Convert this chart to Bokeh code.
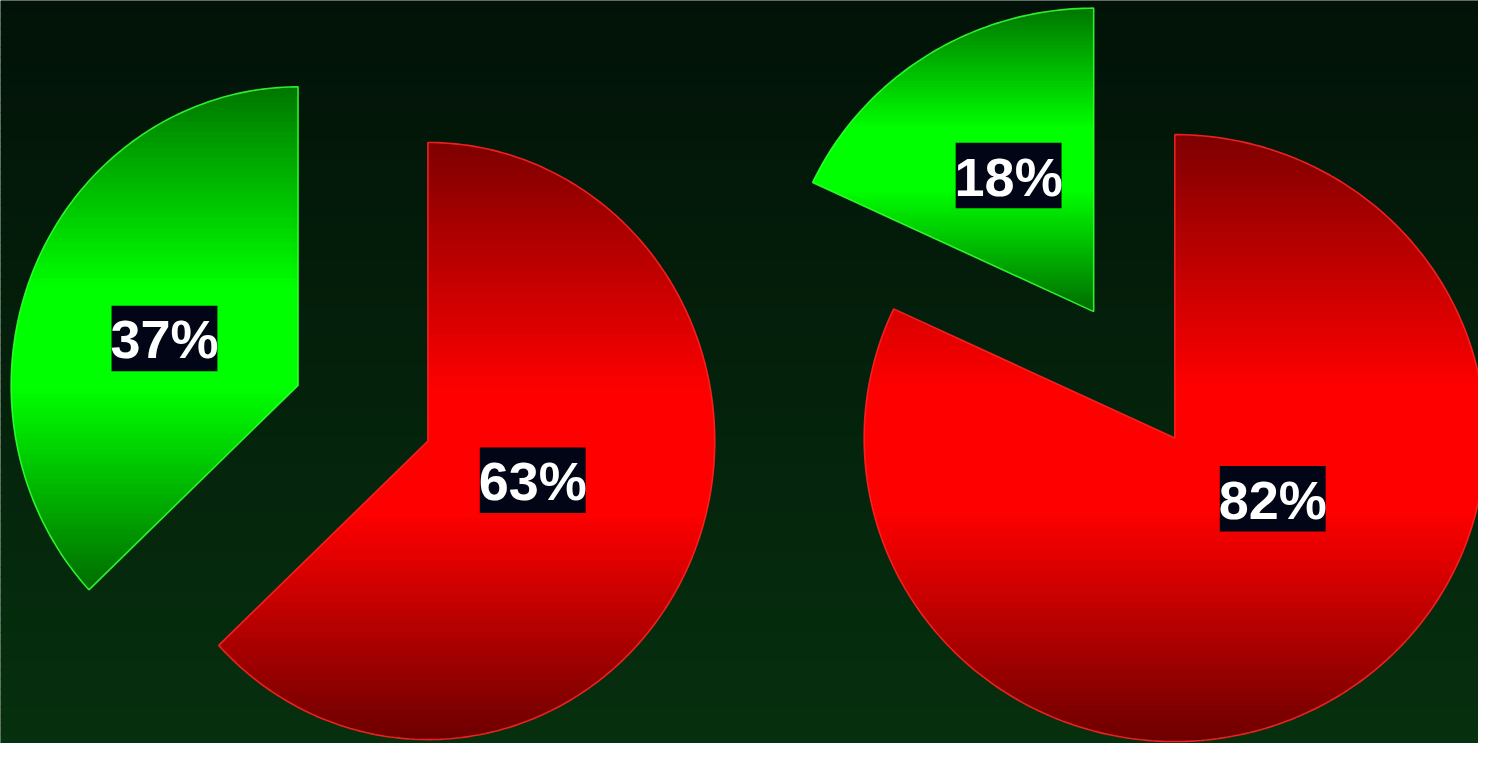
import numpy as np
from bokeh.plotting import figure
from bokeh.models import Range1d
from bokeh.embed import file_html
from bokeh.resources import INLINE
from bokeh.core.properties import value

# ---------------- data ----------------
categories = ["Red", "Green"]
left_values = [63, 37]
right_values = [82, 18]
left_labels = ["63%", "37%"]
right_labels = ["82%", "18%"]

pies_values = [left_values, right_values]
pies_labels = [left_labels, right_labels]

# ---------------- layout (reference pixel space) ----------------
W, H = 1494, 759
centers = [(432, 450), (1187, 447)]
radii = [(290, 305), (314, 310)]
explode = [(0, 143), (0, 153)]
label_offsets = [[(106, 40), (-135, -48)], [(99, 62), (-86, -139)]]

red_stops = [(0.0, (125, 0, 0)), (0.42, (255, 0, 0)), (0.62, (255, 0, 0)), (1.0, (108, 0, 0))]
green_stops = [(0.0, (0, 118, 0)), (0.40, (0, 255, 0)), (0.60, (0, 255, 0)), (1.0, (0, 108, 0))]
slice_stops = [red_stops, green_stops]
outline_colors = ["#ff2222", "#33ff33"]
bg_top = (2, 18, 8)
bg_bottom = (6, 48, 14)


def interp_color(stops, t):
    t = min(max(t, 0.0), 1.0)
    for (t0, c0), (t1, c1) in zip(stops[:-1], stops[1:]):
        if t0 <= t <= t1:
            f = 0 if t1 == t0 else (t - t0) / (t1 - t0)
            c = [round(a + (b - a) * f) for a, b in zip(c0, c1)]
            return "#%02x%02x%02x" % tuple(c)
    c = stops[-1][1]
    return "#%02x%02x%02x" % tuple(c)


def sector(cx, cy, rx, ry, a0, a1):
    n = max(int(abs(a1 - a0)), 2) + 1
    th = np.radians(np.linspace(a0, a1, n))
    xs = [cx] + list(cx + rx * np.sin(th))
    ys = [cy] + list(cy - ry * np.cos(th))
    return list(zip(xs, ys))


def _inter(p, c, yc):
    t = (yc - p[1]) / (c[1] - p[1])
    return (p[0] + t * (c[0] - p[0]), yc)


def clip_half(pts, yc, keep_ge):
    out = []
    n = len(pts)
    for i in range(n):
        cur = pts[i]
        prev = pts[i - 1]
        cin = cur[1] >= yc if keep_ge else cur[1] <= yc
        pin = prev[1] >= yc if keep_ge else prev[1] <= yc
        if cin:
            if not pin:
                out.append(_inter(prev, cur, yc))
            out.append(cur)
        elif pin:
            out.append(_inter(prev, cur, yc))
    return out


p = figure(width=1478, height=743, x_range=Range1d(0, W), y_range=Range1d(H, 0),
           x_axis_type=None, y_axis_type=None, toolbar_location=None,
           output_backend="svg", min_border=0)
p.outline_line_color = None
p.background_fill_color = "#031a0a"
p.border_fill_color = "#031a0a"
p.grid.visible = False

# background gradient
nbg = 80
edges = np.linspace(0, H, nbg + 1)
bg_cols = []
for i in range(nbg):
    f = (i + 0.5) / nbg
    c = [round(a + (b - a) * f) for a, b in zip(bg_top, bg_bottom)]
    bg_cols.append("#%02x%02x%02x" % tuple(c))
p.quad(left=0, right=W, top=edges[:-1], bottom=edges[1:] + 1.0, fill_color=bg_cols, line_color=None)

band_xs, band_ys, band_cols = [], [], []
out_xs, out_ys, out_cols = [], [], []
lab_x, lab_y, lab_t = [], [], []

for k, vals in enumerate(pies_values):
    total = float(sum(vals))
    cx, cy = centers[k]
    rx, ry = radii[k]
    start = 0.0
    for j, v in enumerate(vals):
        span = 360.0 * v / total
        a0, a1 = start, start + span
        mid = np.radians((a0 + a1) / 2)
        dx, dy = np.sin(mid), -np.cos(mid)
        ex = explode[k][j]
        sx, sy = cx + ex * dx, cy + ex * dy
        poly = sector(sx, sy, rx, ry, a0, a1)
        ys_all = [q[1] for q in poly]
        ymin, ymax = min(ys_all), max(ys_all)
        nb = 100
        h = (ymax - ymin) / nb
        for b in range(nb):
            y0 = ymin + b * h
            y1 = min(y0 + h + 0.9, ymax)
            clipped = clip_half(clip_half(poly, y0, True), y1, False)
            if len(clipped) < 3:
                continue
            band_xs.append([q[0] for q in clipped])
            band_ys.append([q[1] for q in clipped])
            band_cols.append(interp_color(slice_stops[j], (b + 0.5) / nb))
        out_xs.append([q[0] for q in poly])
        out_ys.append([q[1] for q in poly])
        out_cols.append(outline_colors[j])
        ox, oy = label_offsets[k][j]
        lab_x.append(sx + ox)
        lab_y.append(sy + oy)
        lab_t.append(pies_labels[k][j])
        start = a1

p.patches(band_xs, band_ys, fill_color=band_cols, line_color=None)
p.patches(out_xs, out_ys, fill_color=None, line_color=out_cols, line_width=1.6, line_alpha=0.9)

p.rect(lab_x, lab_y, width=107, height=67, fill_color="#010515", line_color=None)
fs = 54
p.text(lab_x, [y + 1 for y in lab_y], text=lab_t,
       text_align="center", text_baseline="middle",
       text_font=value("Liberation Sans"), text_font_style="bold",
       text_font_size="%dpx" % fs, text_color="white")

open("out.html", "w").write(file_html(p, INLINE))
